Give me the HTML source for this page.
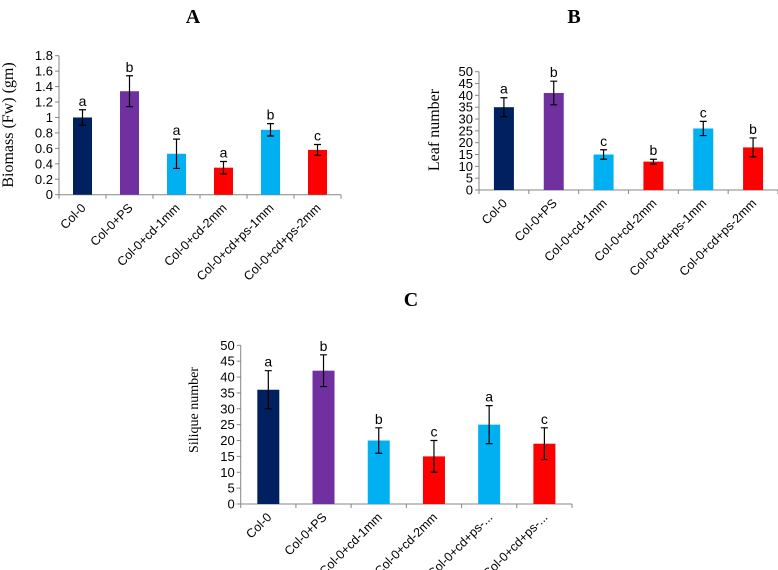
<!DOCTYPE html>
<html><head><meta charset="utf-8"><style>
html,body{margin:0;padding:0;background:#fff;}
svg{display:block;}
</style></head><body>
<svg id="fig" width="778" height="570" viewBox="0 0 778 570" xmlns="http://www.w3.org/2000/svg" font-family="Liberation Sans, sans-serif"></svg>
<script>
const categoriesAB = ["Col-0","Col-0+PS","Col-0+cd-1mm","Col-0+cd-2mm","Col-0+cd+ps-1mm","Col-0+cd+ps-2mm"];
const categoriesC = ["Col-0","Col-0+PS","Col-0+cd-1mm","Col-0+cd-2mm","Col-0+cd+ps-...","Col-0+cd+ps-..."];
const biomassValues = [1.0,1.34,0.53,0.35,0.84,0.58];
const biomassErrors = [0.1,0.2,0.19,0.08,0.08,0.07];
const biomassLetters = ["a","b","a","a","b","c"];
const biomassTicks = ["0","0.2","0.4","0.6","0.8","1","1.2","1.4","1.6","1.8"];
const leafValues = [35,41,15,12,26,18];
const leafErrors = [4,5,2,1,3,4];
const leafLetters = ["a","b","c","b","c","b"];
const leafTicks = ["0","5","10","15","20","25","30","35","40","45","50"];
const siliqueValues = [36,42,20,15,25,19];
const siliqueErrors = [6,5,4,5,6,5];
const siliqueLetters = ["a","b","b","c","a","c"];
const siliqueTicks = ["0","5","10","15","20","25","30","35","40","45","50"];
const barColors = ["#002060","#7030a0","#00b0f0","#ff0000","#00b0f0","#ff0000"];

const NS="http://www.w3.org/2000/svg";
const svg=document.getElementById('fig');
function mk(tag,attrs,parent){const e=document.createElementNS(NS,tag);for(const k in attrs)e.setAttribute(k,attrs[k]);(parent||svg).appendChild(e);return e;}

function chart(cfg){
  const g=mk('g',{});
  
  
  const ticks=cfg.ticks, maxV=parseFloat(ticks[ticks.length-1]);
  const y=v=>cfg.y0-(v/maxV)*(cfg.y0-cfg.yTop);
  const n=cfg.cats.length, step=(cfg.x1-cfg.x0)/n;
  const xc=i=>cfg.x0+step*(i+0.5);
  const t=mk('text',{x:cfg.titleX,y:cfg.titleY,'text-anchor':'middle','font-family':'Liberation Serif, serif','font-weight':'bold','font-size':20},g);
  t.textContent=cfg.title;
  
  
  const yt=mk('text',{x:0,y:0,'text-anchor':'middle','font-family':'Liberation Serif, serif','font-size':cfg.yFont,transform:`translate(${cfg.yTitleX},${cfg.yTitleY}) rotate(-90)`},g);
  yt.textContent=cfg.yTitle;
  
  
  const ya=mk('line',{x1:cfg.x0,y1:y(0),x2:cfg.x0,y2:y(maxV),stroke:'#868686','stroke-width':1},g);
  
  
  ticks.forEach(tk=>{
    const v=parseFloat(tk);
    mk('line',{x1:cfg.x0-4,y1:y(v),x2:cfg.x0,y2:y(v),stroke:'#868686'},g);
    const tl=mk('text',{x:cfg.x0-6,y:y(v)+4.5,'text-anchor':'end','font-size':13,fill:'#000'},g);
    tl.textContent=tk;
    
    
  });
  const xa=mk('line',{x1:cfg.x0,y1:y(0),x2:cfg.x1,y2:y(0),stroke:'#868686','stroke-width':1},g);
  
  
  for(let i=0;i<=n;i++) mk('line',{x1:cfg.x0+step*i,y1:y(0),x2:cfg.x0+step*i,y2:y(0)+4,stroke:'#868686'},g);
  cfg.vals.forEach((v,i)=>{
    const cx=xc(i), bw=cfg.bw;
    const r=mk('rect',{x:cx-bw/2,y:y(v),width:bw,height:y(0)-y(v),fill:barColors[i]},g);
    
    
    const e=cfg.errs[i], hi=y(v+e), lo=y(v-e);
    const eb=mk('path',{d:`M${cx},${hi}V${lo}M${cx-3.5},${hi}H${cx+3.5}M${cx-3.5},${lo}H${cx+3.5}`,stroke:'#000','stroke-width':1.2,fill:'none'},g);
    
    
    const lt=mk('text',{x:cx,y:hi-4,'text-anchor':'middle','font-size':14},g);
    lt.textContent=cfg.letters[i];
    
    
    const xl=mk('text',{x:0,y:0,'text-anchor':'end','font-size':12.5,transform:`translate(${cx+4},${y(0)+14}) rotate(-45)`},g);
    xl.textContent=cfg.cats[i];
    
    
  });
}
chart({id:'biomass',title:'A',titleX:193,titleY:23,yTitle:'Biomass (Fw) (gm)',yTitleX:13,yTitleY:125,yFont:16,
  x0:59,x1:341,y0:194.7,yTop:55.7,bw:19,ticks:biomassTicks,vals:biomassValues,errs:biomassErrors,letters:biomassLetters,cats:categoriesAB});
chart({id:'leaf',title:'B',titleX:574,titleY:23,yTitle:'Leaf number',yTitleX:439,yTitleY:130,yFont:16,
  x0:479,x1:778,y0:190,yTop:71.7,bw:20,ticks:leafTicks,vals:leafValues,errs:leafErrors,letters:leafLetters,cats:categoriesAB});
chart({id:'silique',title:'C',titleX:411,titleY:306,yTitle:'Silique number',yTitleX:198,yTitleY:410,yFont:14,
  x0:240.7,x1:572,y0:504,yTop:345.3,bw:22,ticks:siliqueTicks,vals:siliqueValues,errs:siliqueErrors,letters:siliqueLetters,cats:categoriesC});
</script>
</body></html>
